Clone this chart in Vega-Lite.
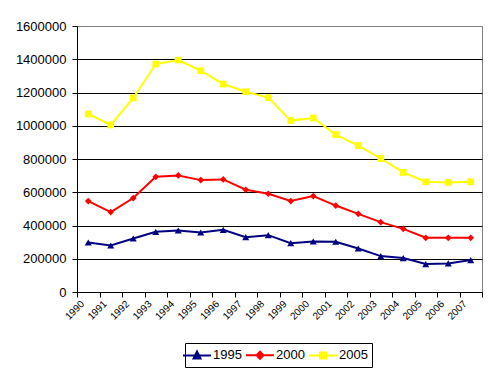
{
  "$schema": "https://vega.github.io/schema/vega-lite/v6.json",
  "width": 405,
  "height": 266,
  "autosize": {"type": "none"},
  "padding": {"left": 77, "top": 26, "right": 15, "bottom": 83},
  "background": "white",
  "config": {
    "view": {"stroke": "#808080", "strokeWidth": 1},
    "font": "Liberation Sans"
  },
  "data": {
    "values": [
      {"year": "1990", "series": "1995", "value": 298000},
      {"year": "1991", "series": "1995", "value": 280000},
      {"year": "1992", "series": "1995", "value": 322000},
      {"year": "1993", "series": "1995", "value": 362000},
      {"year": "1994", "series": "1995", "value": 370000},
      {"year": "1995", "series": "1995", "value": 358000},
      {"year": "1996", "series": "1995", "value": 374000},
      {"year": "1997", "series": "1995", "value": 330000},
      {"year": "1998", "series": "1995", "value": 342000},
      {"year": "1999", "series": "1995", "value": 294000},
      {"year": "2000", "series": "1995", "value": 304000},
      {"year": "2001", "series": "1995", "value": 302000},
      {"year": "2002", "series": "1995", "value": 262000},
      {"year": "2003", "series": "1995", "value": 216000},
      {"year": "2004", "series": "1995", "value": 204000},
      {"year": "2005", "series": "1995", "value": 168000},
      {"year": "2006", "series": "1995", "value": 172000},
      {"year": "2007", "series": "1995", "value": 192000},
      {"year": "1990", "series": "2000", "value": 547000},
      {"year": "1991", "series": "2000", "value": 481000},
      {"year": "1992", "series": "2000", "value": 565000},
      {"year": "1993", "series": "2000", "value": 693000},
      {"year": "1994", "series": "2000", "value": 701000},
      {"year": "1995", "series": "2000", "value": 673000},
      {"year": "1996", "series": "2000", "value": 677000},
      {"year": "1997", "series": "2000", "value": 615000},
      {"year": "1998", "series": "2000", "value": 591000},
      {"year": "1999", "series": "2000", "value": 547000},
      {"year": "2000", "series": "2000", "value": 577000},
      {"year": "2001", "series": "2000", "value": 520000},
      {"year": "2002", "series": "2000", "value": 470000},
      {"year": "2003", "series": "2000", "value": 420000},
      {"year": "2004", "series": "2000", "value": 380000},
      {"year": "2005", "series": "2000", "value": 326000},
      {"year": "2006", "series": "2000", "value": 326000},
      {"year": "2007", "series": "2000", "value": 326000},
      {"year": "1990", "series": "2005", "value": 1071000},
      {"year": "1991", "series": "2005", "value": 1005000},
      {"year": "1992", "series": "2005", "value": 1167000},
      {"year": "1993", "series": "2005", "value": 1371000},
      {"year": "1994", "series": "2005", "value": 1395000},
      {"year": "1995", "series": "2005", "value": 1331000},
      {"year": "1996", "series": "2005", "value": 1251000},
      {"year": "1997", "series": "2005", "value": 1205000},
      {"year": "1998", "series": "2005", "value": 1169000},
      {"year": "1999", "series": "2005", "value": 1031000},
      {"year": "2000", "series": "2005", "value": 1047000},
      {"year": "2001", "series": "2005", "value": 947000},
      {"year": "2002", "series": "2005", "value": 881000},
      {"year": "2003", "series": "2005", "value": 803000},
      {"year": "2004", "series": "2005", "value": 719000},
      {"year": "2005", "series": "2005", "value": 663000},
      {"year": "2006", "series": "2005", "value": 659000},
      {"year": "2007", "series": "2005", "value": 663000}
    ]
  },
  "encoding": {
    "x": {
      "field": "year",
      "type": "ordinal",
      "title": null,
      "scale": {"paddingInner": 0, "paddingOuter": 0},
      "axis": {
        "labelAngle": -45,
        "labelAlign": "right",
        "labelBaseline": "middle",
        "labelFontSize": 10,
        "labelColor": "black",
        "labelOffset": -6,
        "labelPadding": 5,
        "tickBand": "extent",
        "tickSize": 5,
        "tickColor": "black",
        "domainColor": "black",
        "grid": false
      }
    },
    "y": {
      "field": "value",
      "type": "quantitative",
      "title": null,
      "scale": {"domain": [0, 1600000], "nice": false},
      "axis": {
        "values": [0, 200000, 400000, 600000, 800000, 1000000, 1200000, 1400000, 1600000],
        "format": "d",
        "labelFontSize": 13,
        "labelColor": "black",
        "labelPadding": 6,
        "tickSize": 5,
        "tickColor": "black",
        "domainColor": "black",
        "grid": true,
        "gridColor": {"condition": {"test": "datum.value >= 1600000", "value": "#808080"}, "value": "black"},
        "gridOpacity": 1
      }
    }
  },
  "layer": [
    {
      "mark": {"type": "line", "strokeWidth": 2},
      "encoding": {
        "color": {
          "field": "series",
          "type": "nominal",
          "scale": {"domain": ["1995", "2000", "2005"], "range": ["#000080", "#FF0000", "#FFFF00"]},
          "legend": {
            "title": null,
            "orient": "none",
            "legendX": 108,
            "legendY": 317,
            "direction": "horizontal",
            "strokeColor": "black",
            "padding": 4,
            "labelFontSize": 13,
            "labelColor": "black",
            "labelOffset": 8,
            "columnPadding": 0,
            "symbolSize": 196,
            "symbolStrokeWidth": 2,
            "encode": {
              "symbols": {
                "update": {
                  "shape": {"signal": "datum.value === '1995' ? 'M-2,0H2M-0.5,0.45L0,-0.55L0.5,0.45Z' : datum.value === '2000' ? 'M-2,0H2M0,-0.5L0.5,0L0,0.5L-0.5,0Z' : 'M-2,0H2M-0.43,-0.43H0.43V0.43H-0.43Z'"},
                  "fill": {"signal": "scale('color', datum.value)"},
                  "stroke": {"signal": "scale('color', datum.value)"},
                  "strokeWidth": {"value": 2},
                  "opacity": {"value": 1}
                }
              }
            }
          }
        }
      }
    },
    {
      "transform": [{"filter": "datum.series === '1995'"}],
      "mark": {"type": "point", "filled": true, "opacity": 1, "size": 50, "shape": "triangle-up", "color": "#000080"}
    },
    {
      "transform": [{"filter": "datum.series === '2000'"}],
      "mark": {"type": "point", "filled": true, "opacity": 1, "size": 45, "shape": "diamond", "color": "#FF0000"}
    },
    {
      "transform": [{"filter": "datum.series === '2005'"}],
      "mark": {"type": "point", "filled": true, "opacity": 1, "size": 45, "shape": "square", "color": "#FFFF00"}
    }
  ]
}
